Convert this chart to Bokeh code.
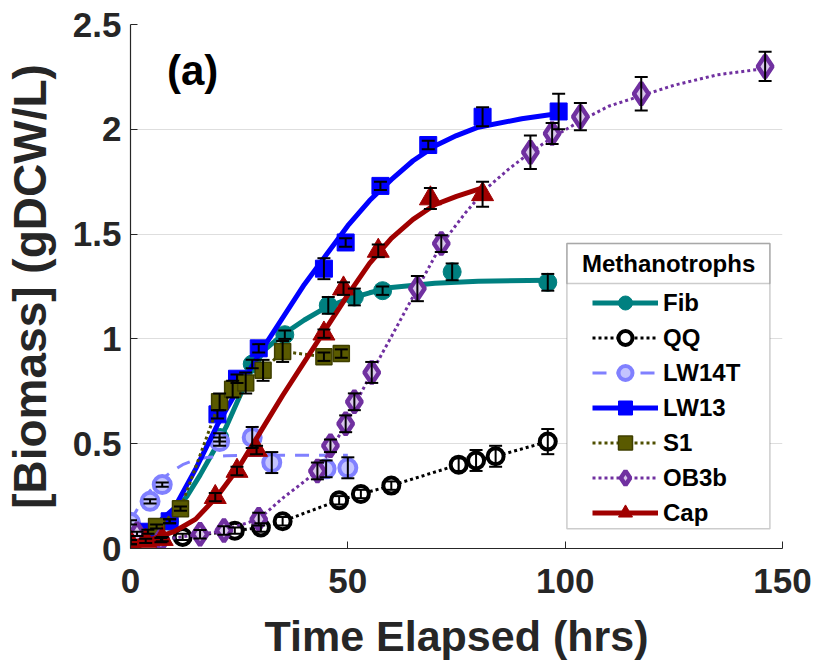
from bokeh.plotting import figure
from bokeh.models import (ColumnDataSource, Whisker, TeeHead, Legend, LegendItem,
                          Label, BoxAnnotation, Range1d)
from bokeh.embed import file_html
from bokeh.resources import INLINE

# ---------------- data ----------------
x_ticks = [0, 50, 100, 150]
y_ticks = [0, 0.5, 1, 1.5, 2, 2.5]
y_tick_labels = ["0", "0.5", "1", "1.5", "2", "2.5"]

fib_t = [0, 9, 20.5, 28, 35.5, 45.5, 51.5, 58, 74, 96]
fib_y = [0.05, 0.13, 0.53, 0.88, 1.02, 1.16, 1.20, 1.23, 1.32, 1.27]
fib_err = [0.01, 0.01, 0.02, 0.02, 0.02, 0.04, 0.04, 0.02, 0.04, 0.04]
fib_fit_t = [0, 5, 10, 13, 16, 19, 22, 25, 28, 31, 35, 40, 45, 50, 55, 60, 70, 80, 96]
fib_fit_y = [0.05, 0.08, 0.17, 0.25, 0.35, 0.46, 0.58, 0.72, 0.86, 0.95, 1.02, 1.09, 1.15,
             1.19, 1.22, 1.245, 1.265, 1.275, 1.28]

qq_t = [0, 12, 24, 30, 35, 48, 53, 60, 75.5, 79.5, 84, 96]
qq_y = [0.03, 0.055, 0.085, 0.10, 0.13, 0.23, 0.26, 0.30, 0.40, 0.42, 0.44, 0.51]
qq_err = [0.01, 0.015, 0.015, 0.02, 0.02, 0.02, 0.02, 0.02, 0.03, 0.05, 0.05, 0.06]

lw14t_t = [0, 4.5, 7.3, 20.5, 28, 32.5, 45, 50]
lw14t_y = [0.125, 0.225, 0.305, 0.51, 0.53, 0.41, 0.38, 0.385]
lw14t_err = [0.01, 0.01, 0.01, 0.02, 0.05, 0.05, 0.04, 0.05]
lw14t_fit_t = [0, 3, 6, 9, 12, 15, 18, 22, 30, 40, 50]
lw14t_fit_y = [0.13, 0.24, 0.31, 0.36, 0.40, 0.425, 0.435, 0.443, 0.445, 0.445, 0.445]

lw13_t = [0, 4, 9, 20, 24.5, 29.5, 44.5, 49.5, 57.5, 68.5, 81, 98.5]
lw13_y = [0.05, 0.08, 0.13, 0.64, 0.81, 0.955, 1.335, 1.46, 1.73, 1.925, 2.06, 2.085]
lw13_err = [0.01, 0.01, 0.01, 0.02, 0.02, 0.02, 0.05, 0.02, 0.02, 0.02, 0.045, 0.085]
lw13_fit_t = [0, 5, 10, 15, 20, 25, 30, 35, 40, 45, 50, 55, 60, 65, 70, 75, 80, 90, 98.5]
lw13_fit_y = [0.06, 0.10, 0.19, 0.38, 0.59, 0.77, 0.94, 1.10, 1.26, 1.40, 1.54, 1.66, 1.76,
              1.85, 1.92, 1.97, 2.01, 2.05, 2.075]

s1_t = [0, 6, 11.5, 20.5, 23.5, 26.5, 30.5, 35, 44.5, 48.5]
s1_y = [0.05, 0.105, 0.19, 0.70, 0.76, 0.79, 0.85, 0.94, 0.915, 0.93]
s1_err = [0.01, 0.01, 0.01, 0.04, 0.04, 0.05, 0.05, 0.05, 0.02, 0.02]

ob3b_t = [1.5, 7, 16, 21.5, 29.5, 43, 46, 49.5, 51.5, 55.5, 66, 71.5, 92, 97, 103.5, 117.5, 146]
ob3b_y = [0.07, 0.04, 0.068, 0.086, 0.14, 0.37, 0.49, 0.595, 0.70, 0.84, 1.24, 1.455, 1.89,
          1.98, 2.06, 2.17, 2.30]
ob3b_err = [0.01, 0.01, 0.02, 0.02, 0.03, 0.04, 0.03, 0.04, 0.04, 0.05, 0.06, 0.04, 0.08,
            0.05, 0.065, 0.08, 0.07]
ob3b_fit_t = [0, 10, 20, 25, 29.5, 35, 40, 43, 46, 49.5, 51.5, 55.5, 60, 66, 71.5, 77, 82,
              87, 92, 97, 103.5, 110, 117.5, 125, 135, 146]
ob3b_fit_y = [0.04, 0.05, 0.08, 0.11, 0.14, 0.24, 0.32, 0.37, 0.47, 0.59, 0.68, 0.84, 1.01,
              1.24, 1.45, 1.60, 1.72, 1.81, 1.89, 1.96, 2.04, 2.11, 2.16, 2.21, 2.26, 2.29]

cap_t = [0, 3.5, 7.3, 19.5, 24.5, 29, 44.5, 49, 57, 69, 81]
cap_y = [0.03, 0.036, 0.045, 0.245, 0.37, 0.47, 1.025, 1.24, 1.42, 1.67, 1.69]
cap_err = [0.01, 0.01, 0.01, 0.02, 0.02, 0.02, 0.02, 0.03, 0.03, 0.05, 0.06]
cap_fit_t = [0, 5, 10, 15, 20, 25, 30, 35, 40, 45, 50, 55, 60, 65, 70, 75, 81]
cap_fit_y = [0.03, 0.045, 0.08, 0.14, 0.25, 0.39, 0.56, 0.73, 0.89, 1.05, 1.21, 1.36, 1.48,
             1.57, 1.64, 1.68, 1.72]

legend_title = "Methanotrophs"

# ---------------- figure ----------------
FONT = "Liberation Sans"
TXT = "#262626"

p = figure(frame_width=652, frame_height=524,
           x_range=Range1d(0, 150), y_range=Range1d(0, 2.5),
           output_backend="svg", toolbar_location=None,
           min_border_left=130, min_border_right=42, min_border_top=24,
           min_border_bottom=116)
p.outline_line_color = None
p.background_fill_color = "white"
p.border_fill_color = "white"

p.xaxis.ticker = x_ticks
p.yaxis.ticker = y_ticks
p.yaxis.major_label_overrides = {t: l for t, l in zip(y_ticks, y_tick_labels)}
for ax in (p.xaxis[0], p.yaxis[0]):
    ax.axis_line_color = TXT
    ax.axis_line_width = 1.2
    ax.major_tick_line_color = TXT
    ax.major_tick_in = 7
    ax.major_tick_out = 0
    ax.minor_tick_line_color = None
    ax.major_label_text_font = FONT
    ax.major_label_text_font_style = "bold"
    ax.major_label_text_font_size = "35px"
    ax.major_label_text_color = TXT
    ax.axis_label_text_font = FONT
    ax.axis_label_text_font_style = "bold"
    ax.axis_label_text_color = TXT
p.xaxis.axis_label_text_font_size = "43px"
p.yaxis.axis_label_text_font_size = "46px"
p.xaxis.axis_label = "Time Elapsed (hrs)"
p.yaxis.axis_label = "[Biomass] (gDCW/L)"
p.xaxis.major_label_standoff = 20
p.yaxis.major_label_standoff = 9
p.xaxis.axis_label_standoff = 16
p.yaxis.axis_label_standoff = 14
p.xgrid.visible = False
p.ygrid.grid_line_color = "#dedede"
p.ygrid.grid_line_width = 1


def errbars(t, y, e):
    src = ColumnDataSource(dict(t=t, upper=[a + b for a, b in zip(y, e)],
                                lower=[a - b for a, b in zip(y, e)]))
    w = Whisker(base="t", upper="upper", lower="lower", source=src, dimension="height",
                line_color="black", line_width=2, level="glyph",
                upper_head=TeeHead(size=13, line_color="black", line_width=2),
                lower_head=TeeHead(size=13, line_color="black", line_width=2))
    p.add_layout(w)


items = []

# Fib
l = p.line(fib_fit_t, fib_fit_y, line_color="#008080", line_width=5)
m = p.scatter(fib_t, fib_y, marker="circle", size=18, fill_color="#008080",
              line_color="#008080")
errbars(fib_t, fib_y, fib_err)
items.append(LegendItem(label="Fib", renderers=[l, m]))

# QQ
l = p.line(qq_t, qq_y, line_color="black", line_width=3, line_dash="3 3")
m = p.scatter(qq_t, qq_y, marker="circle", size=16, fill_color="white",
              line_color="black", line_width=4)
errbars(qq_t, qq_y, qq_err)
items.append(LegendItem(label="QQ", renderers=[l, m]))

# LW14T
l = p.line(lw14t_fit_t, lw14t_fit_y, line_color="#8080FF", line_width=3, line_dash="14 10")
m = p.scatter(lw14t_t, lw14t_y, marker="circle", size=17, fill_color="#c4c4ff",
              line_color="#8080FF", line_width=4)
errbars(lw14t_t, lw14t_y, lw14t_err)
items.append(LegendItem(label="LW14T", renderers=[l, m]))

# LW13
l = p.line(lw13_fit_t, lw13_fit_y, line_color="#0000FF", line_width=5)
m = p.scatter(lw13_t, lw13_y, marker="square", size=17, fill_color="#0000FF",
              line_color="#0000FF")
errbars(lw13_t, lw13_y, lw13_err)
items.append(LegendItem(label="LW13", renderers=[l, m]))

# S1
l = p.line(s1_t, s1_y, line_color="#4f4f00", line_width=3, line_dash="3 3")
m = p.scatter(s1_t, s1_y, marker="square", size=16, fill_color="#5a5a00",
              line_color="#3f3f00", line_width=1.5)
errbars(s1_t, s1_y, s1_err)
items.append(LegendItem(label="S1", renderers=[l, m]))

# OB3b
l = p.line(ob3b_fit_t, ob3b_fit_y, line_color="#7030A0", line_width=3, line_dash="3 3")
m = p.scatter(ob3b_t, ob3b_y, marker="diamond", size=22, fill_color="#d9c6ec",
              line_color="#7030A0", line_width=4.5)
errbars(ob3b_t, ob3b_y, ob3b_err)
items.append(LegendItem(label="OB3b", renderers=[l, m]))

# Cap
l = p.line(cap_fit_t, cap_fit_y, line_color="#A00000", line_width=5)
m = p.scatter(cap_t, cap_y, marker="triangle", size=22, fill_color="#A00000",
              line_color="#A00000")
errbars(cap_t, cap_y, cap_err)
items.append(LegendItem(label="Cap", renderers=[l, m]))

# legend frame (white box) and title header box
p.add_layout(BoxAnnotation(left=100.4, right=147.1, top=1.455, bottom=0.094,
                           fill_color="white", fill_alpha=1,
                           line_color="#555555", line_width=1.5))
p.add_layout(BoxAnnotation(left=100.4, right=147.1, top=1.455, bottom=1.264,
                           fill_alpha=0, line_color="#555555", line_width=1.5))
p.add_layout(Label(x=123.8, y=1.36, text=legend_title, text_align="center",
                   text_baseline="middle", text_font=FONT, text_font_style="bold",
                   text_font_size="24px", text_color="black"))

legend = Legend(items=items, location=(462, 18),
                label_text_font=FONT, label_text_font_style="bold",
                label_text_font_size="24px", label_text_color="black",
                glyph_width=66, glyph_height=35, label_height=35, label_standoff=5,
                spacing=0, padding=0, margin=0,
                border_line_color=None, background_fill_alpha=0)
p.add_layout(legend, "center")

p.add_layout(Label(x=8.4, y=2.17, text="(a)", text_font=FONT, text_font_style="bold",
                   text_font_size="42px", text_color="black"))

open("out.html", "w").write(file_html(p, INLINE))
